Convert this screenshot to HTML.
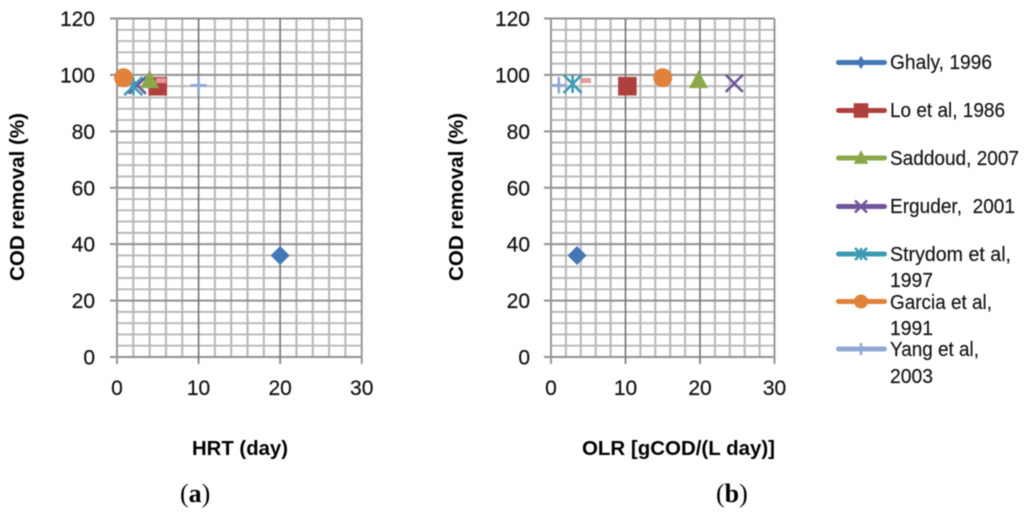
<!DOCTYPE html>
<html lang="en">
<head>
<meta charset="utf-8">
<title>COD removal charts</title>
<style>
html,body{margin:0;padding:0;background:#fff;width:1024px;height:514px;overflow:hidden}
svg{display:block;font-family:"Liberation Sans",sans-serif;fill:#111}
.tick{font-size:21px;stroke:#111;stroke-width:.2px}
.ttl{font-size:20.5px;font-weight:bold;fill:#000}
.leg{font-size:20.5px;stroke:#111;stroke-width:.15px}
.cap{font-family:"Liberation Serif",serif;font-size:26px;fill:#000}
.soft{filter:blur(.45px)}
</style>
</head>
<body>
<svg id="figure" width="1024" height="514" viewBox="0 0 1024 514" xmlns="http://www.w3.org/2000/svg">
  <g class="soft">
  <g id="plot-a"></g>
  <g id="plot-b"></g>
  <text class="ttl" transform="translate(24,281) rotate(-90)" textLength="168" lengthAdjust="spacingAndGlyphs">COD removal (%)</text>
  <text class="ttl" transform="translate(463,281) rotate(-90)" textLength="168" lengthAdjust="spacingAndGlyphs">COD removal (%)</text>
  <text class="ttl" x="192" y="455" textLength="96" lengthAdjust="spacingAndGlyphs">HRT (day)</text>
  <text class="ttl" x="582" y="455" textLength="193" lengthAdjust="spacingAndGlyphs">OLR [gCOD/(L day)]</text>
  <g id="legend">
    <text class="leg" x="890" y="69" textLength="102" lengthAdjust="spacingAndGlyphs">Ghaly, 1996</text>
    <text class="leg" x="890" y="117" textLength="115" lengthAdjust="spacingAndGlyphs">Lo et al, 1986</text>
    <text class="leg" x="890" y="165" textLength="129" lengthAdjust="spacingAndGlyphs">Saddoud, 2007</text>
    <text class="leg" x="890" y="213" textLength="125" lengthAdjust="spacingAndGlyphs">Erguder,&#160;&#160;2001</text>
    <text class="leg" x="890" y="261" textLength="121" lengthAdjust="spacingAndGlyphs">Strydom et al,</text>
    <text class="leg" x="890" y="287" textLength="43" lengthAdjust="spacingAndGlyphs">1997</text>
    <text class="leg" x="890" y="309" textLength="102" lengthAdjust="spacingAndGlyphs">Garcia et al,</text>
    <text class="leg" x="890" y="335" textLength="43" lengthAdjust="spacingAndGlyphs">1991</text>
    <text class="leg" x="890" y="356" textLength="89" lengthAdjust="spacingAndGlyphs">Yang et al,</text>
    <text class="leg" x="890" y="383" textLength="43" lengthAdjust="spacingAndGlyphs">2003</text>
  </g>
  <text class="cap" x="180" y="502">(<tspan font-weight="bold">a</tspan>)</text>
  <text class="cap" x="716" y="502">(<tspan font-weight="bold">b</tspan>)</text>
  </g>
</svg>
<script>
const seriesNames = ['ghaly-1996','lo-1986','saddoud-2007','erguder-2001','strydom-1997','garcia-1991','yang-2003','unlabelled'];
const seriesColors = ['#4477b5','#ae403d','#8aa84a','#70559a','#3d9ab5','#e0823a','#8fa8d4','#e09a98'];
const seriesShapes = ['diamond','square','triangle','cross','star','circle','plus','dash'];
const hrtDays = [20, 5, 4, 2.5, 2, 0.8, 10, 5.4];
const hrtRemoval = [36, 96, 98, 96.3, 96, 99, 96.3, 98];
const olrValues = [3.5, 10.25, 19.8, 24.6, 2.9, 15, 1.05, 4.7];
const olrRemoval = [36, 96, 98, 97, 96.8, 99, 96.3, 98];
const xTickLabels = [0, 10, 20, 30];
const yTickLabels = [0, 20, 40, 60, 80, 100, 120];
const xMinorStep = 2;
const yMinorStep = 4;
const xMax = 30;
const yMax = 120;
const legendRows = [62.5, 110.5, 158, 206.5, 254, 301.5, 349];

const NS = 'http://www.w3.org/2000/svg';
function make(tag, parent, attrs) {
  const el = document.createElementNS(NS, tag);
  for (const k in attrs) el.setAttribute(k, attrs[k]);
  parent.appendChild(el);
  return el;
}
function drawMarker(parent, shape, color, cx, cy, s, narrow, plusVerticalOnly) {
  const g = make('g', parent, {});
  if (shape === 'diamond') {
    const w = narrow ? s * .6 : s;
    make('polygon', g, {points: [cx, cy - s, cx + w, cy, cx, cy + s, cx - w, cy].join(' '), fill: color});
  } else if (shape === 'square') {
    make('rect', g, {x: cx - s, y: cy - s, width: 2 * s, height: 2 * s, fill: color});
  } else if (shape === 'triangle') {
    make('polygon', g, {points: [cx, cy - s * 1.1, cx + s, cy + s * .8, cx - s, cy + s * .8].join(' '), fill: color});
  } else if (shape === 'circle') {
    make('circle', g, {cx: cx, cy: cy, r: s, fill: color});
  } else if (shape === 'dash') {
    make('rect', g, {x: cx - s, y: cy - s * .5, width: 2 * s, height: s, fill: color});
  } else {
    const lines = [];
    if (shape === 'cross' || shape === 'star') {
      lines.push([-s, -s, s, s], [-s, s, s, -s]);
    }
    if (shape === 'plus' || shape === 'star') {
      lines.push([0, -s, 0, s]);
    }
    if (shape === 'plus' && !plusVerticalOnly) {
      lines.push([-s, 0, s, 0]);
    }
    lines.forEach(function (d) {
      make('line', g, {x1: cx + d[0], y1: cy + d[1], x2: cx + d[2], y2: cy + d[3], stroke: color, 'stroke-width': 2.6});
    });
  }
  return g;
}
function drawChart(root, left, right, top, bottom, labelRight, xs, ys, prefix) {
  const sx = function (v) { return left + v / xMax * (right - left); };
  const sy = function (v) { return bottom - v / yMax * (bottom - top); };
  const grid = make('g', root, {});
  
  
  for (let v = 0; v <= yMax; v += yMinorStep) {
    if (v % 20 === 0) continue;
    make('line', grid, {x1: left, x2: right, y1: sy(v), y2: sy(v), stroke: '#b8b8b8', 'stroke-width': 1.9});
  }
  for (let v = 0; v <= xMax; v += xMinorStep) {
    if (v % 10 === 0) continue;
    make('line', grid, {x1: sx(v), x2: sx(v), y1: top, y2: bottom, stroke: '#b8b8b8', 'stroke-width': 2.1});
  }
  yTickLabels.forEach(function (v) {
    make('line', grid, {x1: left - 7, x2: right, y1: sy(v), y2: sy(v), stroke: '#919191', 'stroke-width': 2});
    const t = make('text', root, {class: 'tick', x: labelRight, y: sy(v) + 7.5, 'text-anchor': 'end'});
    t.textContent = v;
    
    
  });
  xTickLabels.forEach(function (v) {
    const edge = v === 0 || v === xMax;
    make('line', grid, {x1: sx(v), x2: sx(v), y1: top, y2: bottom + 7, stroke: edge ? '#989898' : '#7a7a7a', 'stroke-width': edge ? 2 : 1.7});
    const t = make('text', root, {class: 'tick', x: sx(v), y: 395, 'text-anchor': 'middle'});
    t.textContent = v;
    
    
  });
  const order = [0, 3, 4, 1, 7, 2, 5, 6];
  const sizes = {diamond: 9.5, square: 9.3, triangle: 9.5, cross: 8.5, star: 9, circle: 9.5, plus: 8.3, dash: 5};
  order.forEach(function (i) {
    const m = drawMarker(root, seriesShapes[i], seriesColors[i], sx(xs[i]), sy(ys[i]), sizes[seriesShapes[i]]);
    
    
  });
}
drawChart(document.getElementById('plot-a'), 117, 361.7, 18.5, 357, 95, hrtDays, hrtRemoval, 'chart-a');
drawChart(document.getElementById('plot-b'), 551, 774.5, 18.5, 357, 530, olrValues, olrRemoval, 'chart-b');
const legend = document.getElementById('legend');
const legendSizes = [6.7, 7.3, 7.3, 6, 6, 7, 6];
legendRows.forEach(function (y, i) {
  const key = make('g', legend, {});
  
  
  make('line', key, {x1: 838.5, x2: 884.5, y1: y, y2: y, stroke: seriesColors[i], 'stroke-width': 5, 'stroke-linecap': 'round'});
  drawMarker(key, seriesShapes[i], seriesColors[i], 861, y, legendSizes[i], true, true);
});
</script>
</body>
</html>
